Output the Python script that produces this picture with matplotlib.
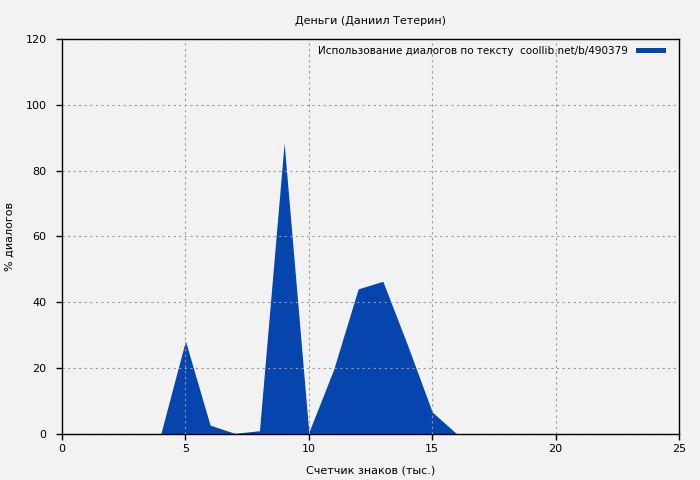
import matplotlib
matplotlib.use("Agg")
import matplotlib.pyplot as plt

# thousands of characters vs. % of dialogue
x = [0, 1, 2, 3, 4, 5, 6, 7, 8, 9, 10, 11, 12, 13, 14, 15, 16, 17, 18, 19, 20, 21, 22, 23, 24, 25]
y = [0, 0, 0, 0, 0, 28.3, 2.7, 0.2, 1.0, 88.4, 0.5, 19.5, 44.1, 46.4, 27.0, 6.7, 0, 0, 0, 0, 0, 0, 0, 0, 0, 0]

title = "Деньги (Даниил Тетерин)"
label = "Использование диалогов по тексту  coollib.net/b/490379"
blue = "#0645ad"
bg = "#f2f2f2"

plt.rcParams["font.family"] = "DejaVu Sans"
plt.rcParams["font.size"] = 8

fig = plt.figure(figsize=(7, 4.8), dpi=100, facecolor=bg)
ax = fig.add_axes([0.0886, 0.0958, 0.8814, 0.823])
ax.set_facecolor(bg)

ax.fill_between(x, y, 0, color=blue, linewidth=0, label=label)

ax.set_xlim(0, 25)
ax.set_ylim(0, 120)
ax.set_xticks([0, 5, 10, 15, 20, 25])
ax.set_yticks([0, 20, 40, 60, 80, 100, 120])
ax.tick_params(direction="out", length=4, width=1, colors="black", labelsize=8)
ax.tick_params(axis="y", pad=7)
ax.grid(True, color="#999999", linestyle=(0, (2, 3)), linewidth=0.8)
for s in ax.spines.values():
    s.set_color("black")
    s.set_linewidth(1)

ax.set_title(title, fontsize=8, pad=11)
ax.set_xlabel("Счетчик знаков (тыс.)", fontsize=8, labelpad=8)
ax.set_ylabel("% диалогов", fontsize=8)
ax.yaxis.set_label_coords(-0.077, 0.5)

leg = ax.legend(loc="upper right", frameon=False, fontsize=7.5, handlelength=2.8,
                handleheight=0.4, markerfirst=False, borderaxespad=0.3,
                bbox_to_anchor=(0.99, 1.0))

fig.savefig("out.png", dpi=100, facecolor=bg)
